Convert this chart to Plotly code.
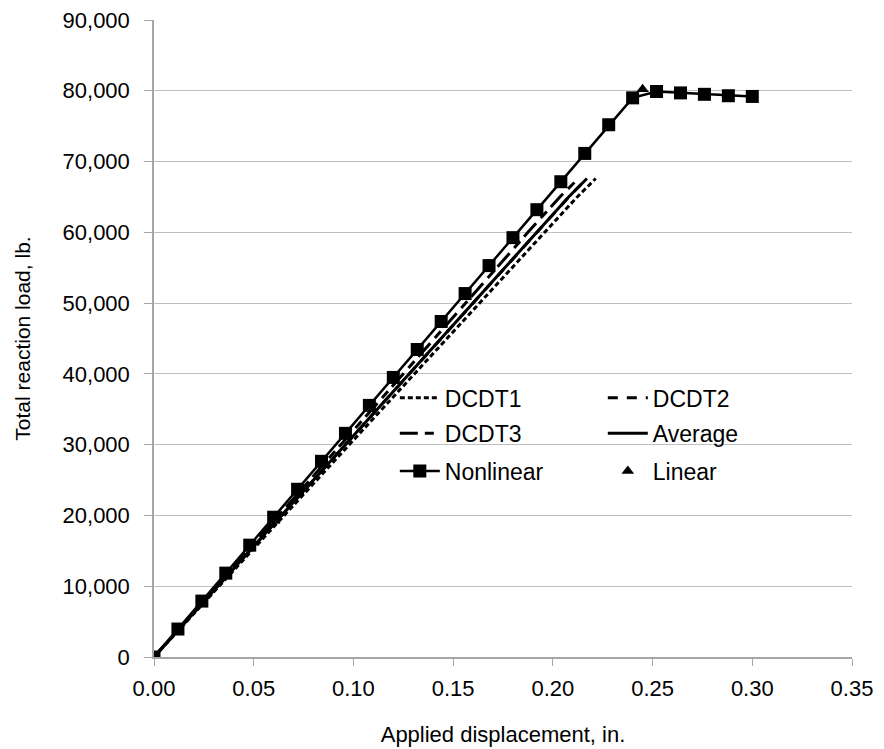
import plotly.graph_objects as go

# Experimental load levels (lb.)
exp_load = [0, 5000, 10000, 15000, 20000, 25000, 30000, 35000, 40000,
            45000, 50000, 55000, 60000, 65000, 67600]
dcdt1_disp = [0, 0.0163, 0.0326, 0.0489, 0.0651, 0.0814, 0.0977, 0.1140, 0.1303,
              0.1466, 0.1629, 0.1792, 0.1955, 0.2122, 0.2215]
dcdt2_disp = [0, 0.0160, 0.0320, 0.0479, 0.0639, 0.0799, 0.0958, 0.1118, 0.1278,
              0.1438, 0.1597, 0.1757, 0.1917, 0.2080, 0.2170]
dcdt3_disp = [0, 0.0156, 0.0313, 0.0469, 0.0625, 0.0781, 0.0938, 0.1094, 0.1250,
              0.1406, 0.1563, 0.1719, 0.1875, 0.2035, 0.2128]
avg_disp = [0, 0.0160, 0.0320, 0.0479, 0.0638, 0.0798, 0.0958, 0.1117, 0.1277,
            0.1437, 0.1596, 0.1756, 0.1916, 0.2079, 0.2171]

# Nonlinear FE analysis
nl_disp = [0, 0.012, 0.024, 0.036, 0.048, 0.060, 0.072, 0.084, 0.096, 0.108,
           0.120, 0.132, 0.144, 0.156, 0.168, 0.180, 0.192, 0.204, 0.216, 0.228,
           0.240, 0.252, 0.264, 0.276, 0.288, 0.300]
nl_load = [0, 3950, 7900, 11850, 15800, 19750, 23700, 27650, 31600, 35550,
           39500, 43450, 47400, 51350, 55300, 59250, 63200, 67150, 71150, 75200,
           79000, 79900, 79700, 79500, 79300, 79200]

# Linear FE analysis
lin_disp = [0.245]
lin_load = [80200]

x_ticks = [0, 0.05, 0.10, 0.15, 0.20, 0.25, 0.30, 0.35]
y_ticks = [0, 10000, 20000, 30000, 40000, 50000, 60000, 70000, 80000, 90000]

FONT = "Liberation Sans, Arial, sans-serif"
fig = go.Figure()

fig.add_trace(go.Scatter(x=dcdt1_disp, y=exp_load, mode="lines", name="DCDT1",
                         line=dict(color="black", width=3, dash="5px,3px"),
                         legend="legend"))
fig.add_trace(go.Scatter(x=dcdt2_disp, y=exp_load, mode="lines", name="DCDT2",
                         line=dict(color="black", width=3, dash="10px,9px"),
                         legend="legend"))
fig.add_trace(go.Scatter(x=dcdt3_disp, y=exp_load, mode="lines", name="DCDT3",
                         line=dict(color="black", width=3, dash="18px,7px,9px,6px"),
                         legend="legend2"))
fig.add_trace(go.Scatter(x=avg_disp, y=exp_load, mode="lines", name="Average",
                         line=dict(color="black", width=3),
                         legend="legend2"))
fig.add_trace(go.Scatter(x=nl_disp, y=nl_load, mode="lines+markers", name="Nonlinear",
                         line=dict(color="black", width=2.5),
                         marker=dict(symbol="square", size=13, color="black"),
                         legend="legend3"))
fig.add_trace(go.Scatter(x=lin_disp, y=lin_load, mode="markers", name="Linear",
                         marker=dict(symbol="triangle-up", size=11, color="black"),
                         legend="legend3"))

leg_common = dict(orientation="h", xanchor="left", yanchor="middle",
                  bgcolor="rgba(0,0,0,0)", font=dict(family=FONT, size=23, color="black"),
                  entrywidth=153, itemwidth=40, tracegroupgap=0)

fig.update_layout(
    width=884, height=749,
    margin=dict(l=154, r=32, t=20, b=92),
    paper_bgcolor="white", plot_bgcolor="white",
    font=dict(family=FONT, size=22, color="black"),
    showlegend=True,
    legend=dict(x=0.345, y=0.407, **leg_common),
    legend2=dict(x=0.345, y=0.351, **leg_common),
    legend3=dict(x=0.345, y=0.292, **leg_common),
    xaxis=dict(range=[0, 0.35], tickvals=x_ticks, tickformat=".2f", automargin=False,
               showgrid=False, zeroline=False, showline=True, linecolor="#a6a6a6",
               linewidth=1.5, ticks="outside", ticklen=7, tickcolor="#a6a6a6",
               ticklabelstandoff=4,
               tickfont=dict(family=FONT, size=22),
               title=dict(text="Applied displacement, in.", font=dict(family=FONT, size=22),
                          standoff=26)),
    yaxis=dict(range=[0, 90000], tickvals=y_ticks, tickformat=",d", automargin=False,
               showgrid=True, gridcolor="#bfbfbf", gridwidth=1.2, zeroline=False,
               showline=True, linecolor="#a6a6a6", linewidth=1.5,
               ticks="outside", ticklen=8, tickcolor="#a6a6a6",
               ticklabelstandoff=10,
               tickfont=dict(family=FONT, size=22),
               title=dict(text="Total reaction load, lb.", font=dict(family=FONT, size=21),
                          standoff=26)),
)

fig.write_html("out.html")
